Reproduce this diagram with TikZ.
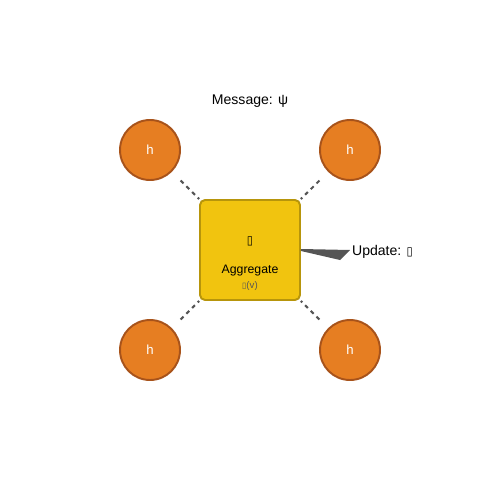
\documentclass[tikz,border=0pt]{standalone}
\usepackage{fontspec}
\setmainfont{Liberation Sans}
\newfontfamily\symfont{DejaVu Sans}
\definecolor{hfill}{HTML}{E67E22}
\definecolor{hline}{HTML}{A8531A}
\definecolor{aggfill}{HTML}{F1C40F}
\definecolor{aggline}{HTML}{B7950B}
\definecolor{dgray}{HTML}{555555}
\tikzset{
  hnode/.style={circle,fill=hfill,draw=hline,line width=1.1pt,minimum size=1.2cm,inner sep=0pt,text=white,font=\fontsize{7.5}{9}\selectfont},
  aggbox/.style={rectangle,rounded corners=0.1cm,fill=aggfill,draw=aggline,line width=1.1pt,minimum size=2cm,inner sep=0pt},
  msg/.style={draw=dgray,line width=1.2pt,dash pattern=on 2.3pt off 2.3pt,shorten <=7pt,shorten >=0pt}
}
\newcommand{\tofu}{{\symfont\scalebox{0.8}[0.85]{▯}}}
\begin{document}
\begin{tikzpicture}[x=0.02cm,y=-0.02cm]
\useasboundingbox (0,0) rectangle (500,500);

\node[aggbox] (agg) at (250,250) {};
\node[font=\fontsize{8}{10}\selectfont] (aggsym) at (250,241) {\tofu};
\node[font=\fontsize{7}{9}\selectfont] (agglab) at (250,271) {Aggregate};
\node[font=\fontsize{5.5}{7}\selectfont,text=dgray] (aggv) at (250,286) {\tofu(v)};

\node[hnode] (h1) at (150,150) {h};
\node[hnode] (h2) at (350,150) {h};
\node[hnode] (h3) at (150,350) {h};
\node[hnode] (h4) at (350,350) {h};

\draw[msg] (h1) -- (agg);
\draw[msg] (h2) -- (agg);
\draw[msg] (h3) -- (agg);
\draw[msg] (h4) -- (agg);

\node[font=\fontsize{8}{10}\selectfont] (msglab) at (250,101.5) {Message: ψ};

\coordinate (u) at (350,250);
\fill[dgray] (agg.east) ++(0,-1) -- (u) -- (340,260) -- ([yshift=-0.02cm]agg.east) -- cycle;
\node[anchor=west,inner sep=1pt,font=\fontsize{8}{10}\selectfont] (updlab) at (350,251.5) {Update: \tofu};

\end{tikzpicture}
\end{document}
